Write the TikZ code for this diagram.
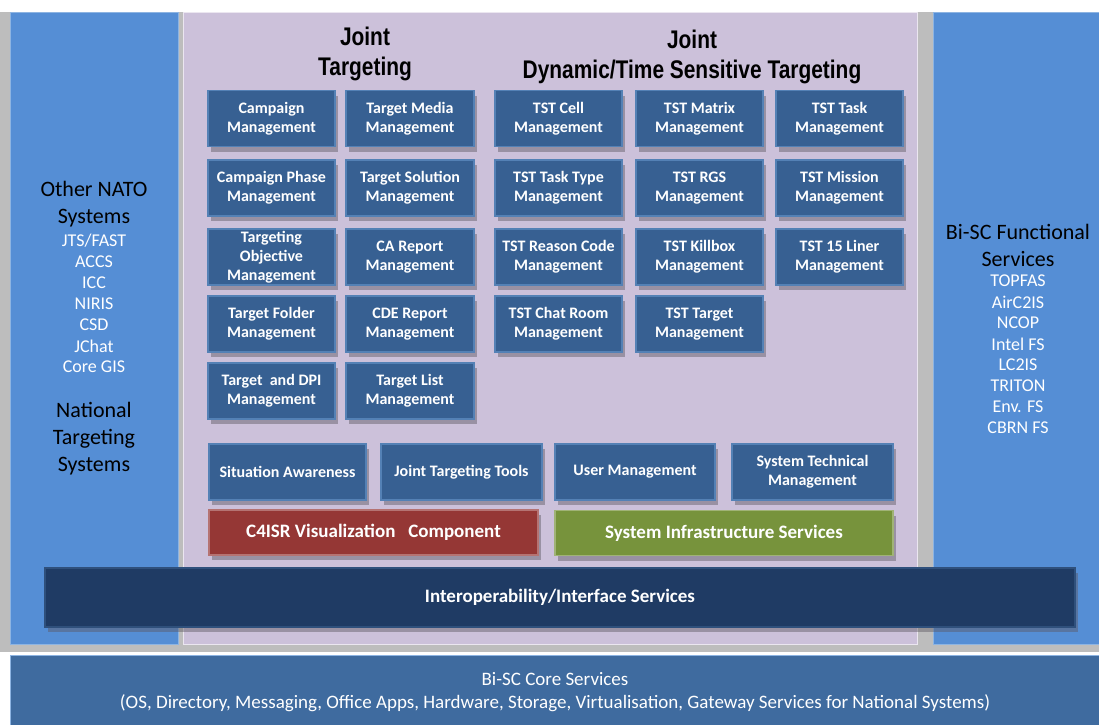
\documentclass[tikz,border=0pt]{standalone}
\usepackage{fontspec}
\setmainfont{Carlito}
\newfontfamily\headfont[FakeStretch=0.82]{Liberation Sans}
\usetikzlibrary{shadows}

\definecolor{panelblue}{HTML}{558ED5}
\definecolor{paneledge}{HTML}{8DB4E2}
\definecolor{lavender}{HTML}{CCC1DA}
\definecolor{boxblue}{HTML}{376092}
\definecolor{boxedge}{HTML}{5481B5}
\definecolor{navy}{HTML}{1F3B64}
\definecolor{corebar}{HTML}{3F6B9F}
\definecolor{redbox}{HTML}{953735}
\definecolor{greenbox}{HTML}{77933C}
\definecolor{framegray}{HTML}{BDBDBD}

\tikzset{
  panel/.style={inner sep=0pt, fill=panelblue, draw=paneledge, line width=1pt},
  svcbox/.style={draw=boxedge, line width=1.2pt, fill=boxblue, text=white,
    font=\fontsize{16}{19}\selectfont\bfseries, align=center, inner sep=1pt,
    minimum height=56pt,
    drop shadow={shadow xshift=3pt, shadow yshift=-5pt, fill=black!55!lavender, opacity=.45}},
  bar/.style={svcbox, font=\fontsize{19}{22}\selectfont\bfseries, minimum height=45pt},
  heading/.style={font=\headfont\fontsize{25.5}{30}\selectfont\bfseries, align=center},
  bigtext/.style={font=\fontsize{22}{27}\selectfont, align=center},
  listtext/.style={text=white, font=\fontsize{18}{21}\selectfont, inner sep=0pt}
}

\begin{document}
\begin{tikzpicture}[x=1pt,y=-1pt]
\useasboundingbox (0,0) rectangle (1099,724);

% Background
\fill[framegray] (0,12) rectangle (1099,652);

% Side panels and centre panel
\node[panel, minimum width=168pt, minimum height=632pt] (nato) at (94,328) {};
\node[panel, minimum width=734pt, minimum height=632pt, fill=lavender, draw=white!60!lavender] (centre) at (550,328) {};
\node[panel, minimum width=170pt, minimum height=632pt] (bisc) at (1018,328) {};

% Other NATO systems
\node[bigtext] (natotitle) at (94,204) {Other NATO\\Systems};
\foreach \name [count=\i from 0] in {JTS/FAST,ACCS,ICC,NIRIS,CSD,JChat,Core GIS}
  \node[listtext] (nato\i) at (94,{241+21*\i}) {\name};
\node[bigtext] (national) at (94,439) {National\\Targeting\\Systems};

% Bi-SC functional services
\node[bigtext] (bisctitle) at (1018,245) {Bi-SC Functional\\Services};
\foreach \name [count=\i from 0] in {TOPFAS,AirC2IS,NCOP,Intel FS,LC2IS,TRITON,Env. FS,CBRN FS}
  \node[listtext] (fs\i) at (1018,{281+21*\i}) {\name};

% Headings
\node[heading] (jt) at (365,54) {Joint\\Targeting};
\node[heading] (tst) at (692,57) {Joint\\Dynamic/Time Sensitive Targeting};

% Joint targeting
\node[svcbox, minimum width=127pt] (campaign) at (271.5,118.5) {Campaign\\Management};
\node[svcbox, minimum width=128pt] (media) at (410,118.5) {Target Media\\Management};
\node[svcbox, minimum width=127pt] (phase) at (271.5,188) {Campaign Phase\\Management};
\node[svcbox, minimum width=128pt] (solution) at (410,188) {Target Solution\\Management};
\node[svcbox, minimum width=127pt] (objective) at (271.5,257) {Targeting\\Objective\\Management};
\node[svcbox, minimum width=128pt] (careport) at (410,257) {CA Report\\Management};
\node[svcbox, minimum width=127pt] (folder) at (271.5,324) {Target Folder\\Management};
\node[svcbox, minimum width=128pt] (cdereport) at (410,324) {CDE Report\\Management};
\node[svcbox, minimum width=127pt] (dpi) at (271.5,391) {Target\ \ and DPI\\Management};
\node[svcbox, minimum width=128pt] (list) at (410,391) {Target List\\Management};

% Dynamic/time sensitive targeting
\node[svcbox, minimum width=127pt] (cell) at (558.5,118.5) {TST Cell\\Management};
\node[svcbox, minimum width=127pt] (matrix) at (699.5,118.5) {TST Matrix\\Management};
\node[svcbox, minimum width=127pt] (task) at (839.5,118.5) {TST Task\\Management};
\node[svcbox, minimum width=127pt] (tasktype) at (558.5,188) {TST Task Type\\Management};
\node[svcbox, minimum width=127pt] (rgs) at (699.5,188) {TST RGS\\Management};
\node[svcbox, minimum width=127pt] (mission) at (839.5,188) {TST Mission\\Management};
\node[svcbox, minimum width=127pt] (reason) at (558.5,257) {TST Reason Code\\Management};
\node[svcbox, minimum width=127pt] (killbox) at (699.5,257) {TST Killbox\\Management};
\node[svcbox, minimum width=127pt] (liner) at (839.5,257) {TST 15 Liner\\Management};
\node[svcbox, minimum width=127pt] (chat) at (558.5,324) {TST Chat Room\\Management};
\node[svcbox, minimum width=127pt] (target) at (699.5,324) {TST Target\\Management};

% Common services
\node[svcbox, minimum width=157pt] (awareness) at (287.5,472) {Situation Awareness};
\node[svcbox, minimum width=161pt] (tools) at (461.5,472) {Joint Targeting Tools};
\node[svcbox, minimum width=160pt] (users) at (635,472) {User Management};
\node[svcbox, minimum width=161pt] (technical) at (812.5,472) {System Technical\\Management};
\node[bar, minimum width=329pt, fill=redbox, draw=redbox!70!white] (c4isr) at (373.5,532.5) {C4ISR Visualization\ \ \ Component};
\node[bar, minimum width=338pt, fill=greenbox, draw=greenbox!70!white] (infra) at (724,533) {System Infrastructure Services};

% Interoperability
\node[bar, minimum width=1030pt, minimum height=59pt, fill=navy, draw=navy!70!boxedge] (interop) at (560,597.5) {Interoperability/Interface Services};

% Core services
\node[inner sep=0pt, fill=corebar, draw=paneledge, line width=1pt, minimum width=1095pt, minimum height=72pt] (core) at (557.5,691) {};
\node[text=white, font=\fontsize{19}{23}\selectfont, align=center] (coretext) at (555,692) {Bi-SC Core Services\\(OS, Directory, Messaging, Office Apps, Hardware, Storage, Virtualisation, Gateway Services for National Systems)};

\end{tikzpicture}
\end{document}
